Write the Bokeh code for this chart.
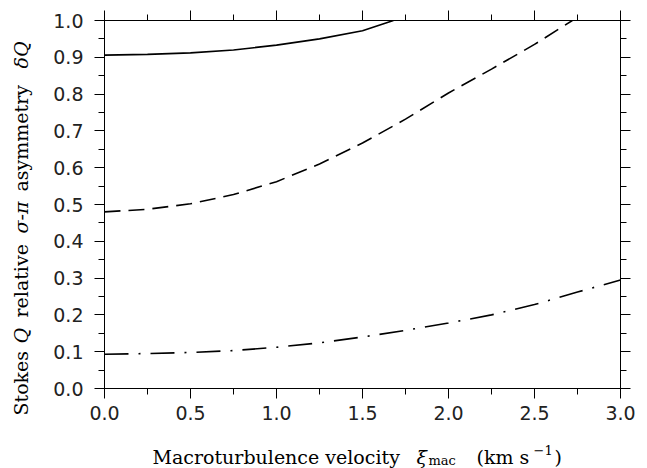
import math
from bokeh.plotting import figure
from bokeh.layouts import column, row
from bokeh.models import (Range1d, LinearAxis, SingleIntervalTicker, PrintfTickFormatter,
                          CustomJSTickFormatter, ColumnDataSource)
from bokeh.core.properties import value
from bokeh.embed import file_html
from bokeh.resources import INLINE

# ---- data ----
solid_x = [0.0, 0.25, 0.5, 0.75, 1.0, 1.25, 1.5, 1.68]
solid_y = [0.906, 0.908, 0.912, 0.920, 0.933, 0.950, 0.972, 1.0]

dashed_x = [0.0, 0.25, 0.5, 0.75, 1.0, 1.25, 1.5, 1.75, 2.0, 2.25, 2.5, 2.72]
dashed_y = [0.480, 0.487, 0.502, 0.527, 0.562, 0.610, 0.667, 0.732, 0.803, 0.868, 0.935, 1.0]

dashdot_x = [0.0, 0.25, 0.5, 0.75, 1.0, 1.25, 1.5, 1.75, 2.0, 2.25, 2.5, 2.75, 3.0]
dashdot_y = [0.093, 0.095, 0.098, 0.103, 0.112, 0.124, 0.140, 0.158, 0.178, 0.200, 0.228, 0.262, 0.295]

x_range = (0.0, 3.0)
y_range = (0.0, 1.0)

# axis-label pieces
xlabel_parts = ["Macroturbulence velocity", "ξ", "mac", "(km s", "−1", ")"]
ylabel_parts = ["Stokes", "Q", "relative", "σ-π", "asymmetry", "δQ"]

SERIF = "DejaVu Serif"
SANS = "DejaVu Sans"

LEFT_W = 34     # width of the y-label strip
MAIN_H = 430    # height of main figure
W, H = 647, 468

# ---------------- main plot ----------------
p = figure(width=W - LEFT_W, height=MAIN_H, output_backend="svg", toolbar_location=None,
           x_range=Range1d(*x_range), y_range=Range1d(*y_range),
           x_axis_location=None, y_axis_location=None,
           min_border_left=104 - LEFT_W, min_border_right=27, min_border_top=20,
           min_border_bottom=MAIN_H - 388)
p.xgrid.visible = False
p.ygrid.visible = False
p.outline_line_color = "black"
p.outline_line_width = 1

def style_axis(ax, show_labels):
    ax.axis_line_color = "black"
    ax.major_tick_line_color = "black"
    ax.minor_tick_line_color = "black"
    ax.major_tick_in = 0
    ax.major_tick_out = 10
    ax.minor_tick_in = 0
    ax.minor_tick_out = 6
    ax.major_label_text_font = SANS
    ax.major_label_text_color = "#222222"
    ax.major_label_text_font_size = "19px"
    if not show_labels:
        ax.formatter = CustomJSTickFormatter(code="return ''")
        ax.major_label_standoff = 0

xt = lambda: SingleIntervalTicker(interval=0.5, num_minor_ticks=2)
yt = lambda: SingleIntervalTicker(interval=0.1, num_minor_ticks=2)

bottom = LinearAxis(ticker=xt(), formatter=PrintfTickFormatter(format="%.1f"))
style_axis(bottom, True)
bottom.major_label_standoff = 7
left = LinearAxis(ticker=yt(), formatter=PrintfTickFormatter(format="%.1f"))
style_axis(left, True)
left.major_label_standoff = 11
top = LinearAxis(ticker=xt())
style_axis(top, False)
right = LinearAxis(ticker=yt())
style_axis(right, False)

p.add_layout(bottom, "below")
p.add_layout(left, "left")
p.add_layout(top, "above")
p.add_layout(right, "right")

p.line(solid_x, solid_y, line_color="black", line_width=1.6)
p.line(dashed_x, dashed_y, line_color="black", line_width=1.6, line_dash="16 8")
p.line(dashdot_x, dashdot_y, line_color="black", line_width=1.6, line_dash="24 10 2 10")

# ---------------- y-label strip ----------------
yl = figure(frame_width=LEFT_W, frame_height=MAIN_H, output_backend="svg", toolbar_location=None,
            x_range=Range1d(0, LEFT_W), y_range=Range1d(0, MAIN_H),
            x_axis_location=None, y_axis_location=None,
            min_border_left=0, min_border_right=0, min_border_top=0, min_border_bottom=0)
yl.title.visible = False
yl.xgrid.visible = False
yl.ygrid.visible = False
yl.outline_line_color = None
ysrc = ColumnDataSource(dict(
    text=ylabel_parts,
    x=[20.5] * 6,
    y=[MAIN_H - 395, MAIN_H - 323, MAIN_H - 297, MAIN_H - 213, MAIN_H - 171, MAIN_H - 48],
    style=["normal", "italic", "normal", "italic", "normal", "italic"],
))
yl.text(x="x", y="y", text="text", source=ysrc, angle=math.pi / 2,
        text_font=value(SERIF), text_font_size=value("19px"), text_font_style="style",
        text_align="left", text_baseline="alphabetic", text_color="black")

# ---------------- x-label strip ----------------
XL_H = H - MAIN_H
xl = figure(frame_width=W, frame_height=XL_H, output_backend="svg", toolbar_location=None,
            x_range=Range1d(0, W), y_range=Range1d(0, XL_H),
            x_axis_location=None, y_axis_location=None,
            min_border_left=0, min_border_right=0, min_border_top=0, min_border_bottom=0)
xl.title.visible = False
xl.xgrid.visible = False
xl.ygrid.visible = False
xl.outline_line_color = None
xsrc = ColumnDataSource(dict(
    text=xlabel_parts,
    x=[152, 416, 428, 476, 533, 554],
    y=[11.3, 11.3, 8.0, 11.3, 18.5, 11.3],
    size=["19px", "19px", "13px", "19px", "13px", "19px"],
    style=["normal", "italic", "normal", "normal", "normal", "normal"],
))
xl.text(x="x", y="y", text="text", source=xsrc,
        text_font=value(SERIF), text_font_size="size", text_font_style="style",
        text_align="left", text_baseline="alphabetic", text_color="black")

layout = column(row(yl, p, spacing=0), xl, spacing=0)

open("out.html", "w").write(file_html(layout, INLINE))
